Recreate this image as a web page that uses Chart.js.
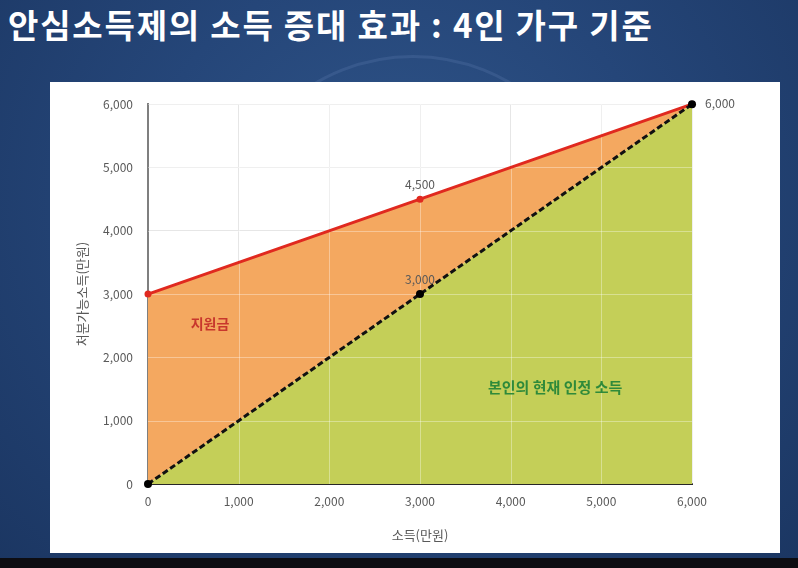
<!DOCTYPE html>
<html>
<head>
<meta charset="utf-8">
<script src="https://cdn.jsdelivr.net/npm/chart.js@4.4.1/dist/chart.umd.min.js"></script>
<style>
  html, body { margin: 0; padding: 0; }
  body {
    width: 798px; height: 568px; overflow: hidden; position: relative;
    background: radial-gradient(ellipse at 50% 35%, #2f5488 0%, #254679 45%, #1b3662 100%);
    font-family: 'Noto Sans CJK KR', 'Noto Sans', sans-serif;
  }
  #title {
    position: absolute; left: 8px; top: 0px;
    color: #fff; font-size: 33px; font-weight: 700; white-space: nowrap;
    letter-spacing: 1.8px;
  }
  #compass {
    position: absolute; left: 220px; top: 55px; width: 380px; height: 380px;
    border: 3px solid rgba(120,150,200,0.18); border-radius: 50%;
  }
  #panel {
    position: absolute; left: 50px; top: 82px; width: 730px; height: 471px;
    background: #fff;
  }
  #panel canvas { display: block; }
  #bottombar {
    position: absolute; left: 0; top: 558px; width: 798px; height: 10px; background: #0d0d12;
  }
</style>
</head>
<body>
<div id="compass"></div>
<div id="title">안심소득제의 소득 증대 효과 : 4인 가구 기준</div>
<div id="panel"><canvas id="chart" width="730" height="471"></canvas></div>
<div id="bottombar"></div>
<script>
// 소득(만원) 구간
const incomeX = [0, 3000, 6000];
// 본인의 현재 인정 소득 (점선)
const ownIncome = [0, 3000, 6000];
// 안심소득 포함 처분가능소득 (빨간선)
const disposable = [3000, 4500, 6000];
// 값 라벨을 붙일 점
const ownLabelIdx = [1, 2];
const dispLabelIdx = [1];

const xTitle = '소득(만원)';
const yTitle = '처분가능소득(만원)';

const notes = [
  { text: '지원금', x: 684, y: 2540, color: '#c8372d', size: 14 },
  { text: '본인의 현재 인정 소득', x: 4490, y: 1530, color: '#2f8a3a', size: 15 }
];

const FONT = "'Noto Sans CJK KR', 'Noto Sans', sans-serif";
const toPts = ys => ys.map((y, i) => ({ x: incomeX[i], y: y }));

// 채움 위에 옅은 격자선 (엑셀 차트처럼)
const gridOverlay = {
  id: 'gridOverlay',
  beforeDatasetsDraw(chart) {
    const { ctx, chartArea: a, scales: { x, y } } = chart;
    ctx.save();
    ctx.strokeStyle = 'rgba(255,255,255,0.35)';
    ctx.lineWidth = 1;
    ctx.beginPath();
    x.ticks.forEach(t => {
      if (t.value === 0) return;
      const px = Math.round(x.getPixelForValue(t.value)) + 0.5;
      ctx.moveTo(px, a.top); ctx.lineTo(px, a.bottom);
    });
    y.ticks.forEach(t => {
      if (t.value === 0) return;
      const py = Math.round(y.getPixelForValue(t.value)) + 0.5;
      ctx.moveTo(a.left, py); ctx.lineTo(a.right, py);
    });
    ctx.stroke();
    ctx.restore();
  }
};

const labelPlugin = {
  id: 'labels',
  afterDatasetsDraw(chart) {
    const { ctx, scales: { x, y } } = chart;
    ctx.save();
    ctx.font = '12px ' + FONT;
    ctx.fillStyle = '#595959';
    ctx.textBaseline = 'middle';
    const put = (vals, idxs) => idxs.forEach(i => {
      const px = x.getPixelForValue(incomeX[i]), py = y.getPixelForValue(vals[i]);
      const txt = vals[i].toLocaleString('en-US');
      if (i === incomeX.length - 1) { ctx.textAlign = 'left'; ctx.fillText(txt, px + 13, py - 1); }
      else { ctx.textAlign = 'center'; ctx.fillText(txt, px, py - 15); }
    });
    put(disposable, dispLabelIdx);
    put(ownIncome, ownLabelIdx);

    notes.forEach(n => {
      ctx.font = 'bold ' + n.size + 'px ' + FONT;
      ctx.fillStyle = n.color;
      ctx.textAlign = 'center';
      ctx.fillText(n.text, x.getPixelForValue(n.x), y.getPixelForValue(n.y));
    });
    ctx.restore();
  }
};

new Chart(document.getElementById('chart'), {
  type: 'line',
  data: {
    datasets: [
      {
        label: '본인의 현재 인정 소득',
        data: toPts(ownIncome),
        borderColor: '#111', borderWidth: 3, borderDash: [6, 3],
        pointRadius: 4, pointBackgroundColor: '#000', pointBorderWidth: 0,
        fill: 'origin', backgroundColor: '#c4cf58', tension: 0, clip: 6
      },
      {
        label: '처분가능소득',
        data: toPts(disposable),
        borderColor: '#e0291f', borderWidth: 3,
        pointRadius: 3.5, pointBackgroundColor: '#e0291f', pointBorderWidth: 0,
        fill: '-1', backgroundColor: '#f4a860', tension: 0, clip: 6
      }
    ]
  },
  options: {
    responsive: false,
    animation: false,
    layout: { padding: { left: 0, right: 88, top: 22, bottom: 0 } },
    plugins: {
      legend: { display: false },
      tooltip: { enabled: false },
      filler: { drawTime: 'beforeDatasetsDraw' }
    },
    scales: {
      x: {
        type: 'linear', min: 0, max: 6000,
        afterFit: s => { s.height = 69; },
        ticks: { stepSize: 1000, color: '#595959', padding: 10, font: { size: 12, family: FONT } },
        grid: { color: '#e6e6e6', lineWidth: 1, drawTicks: false },
        border: { color: '#262626', width: 2 },
        title: { display: true, text: xTitle, color: '#595959', padding: { top: 0, bottom: 10 }, font: { size: 13, family: FONT } }
      },
      y: {
        min: 0, max: 6000,
        afterFit: s => { s.width = 98; },
        ticks: { stepSize: 1000, color: '#595959', padding: 15, font: { size: 12, family: FONT } },
        grid: { color: '#e6e6e6', lineWidth: 1, drawTicks: false },
        border: { color: '#7f7f7f', width: 2 },
        title: { display: true, text: yTitle, color: '#595959', padding: { top: 24, bottom: 0 }, font: { size: 13, family: FONT } }
      }
    }
  },
  plugins: [gridOverlay, labelPlugin]
});
</script>
</body>
</html>
